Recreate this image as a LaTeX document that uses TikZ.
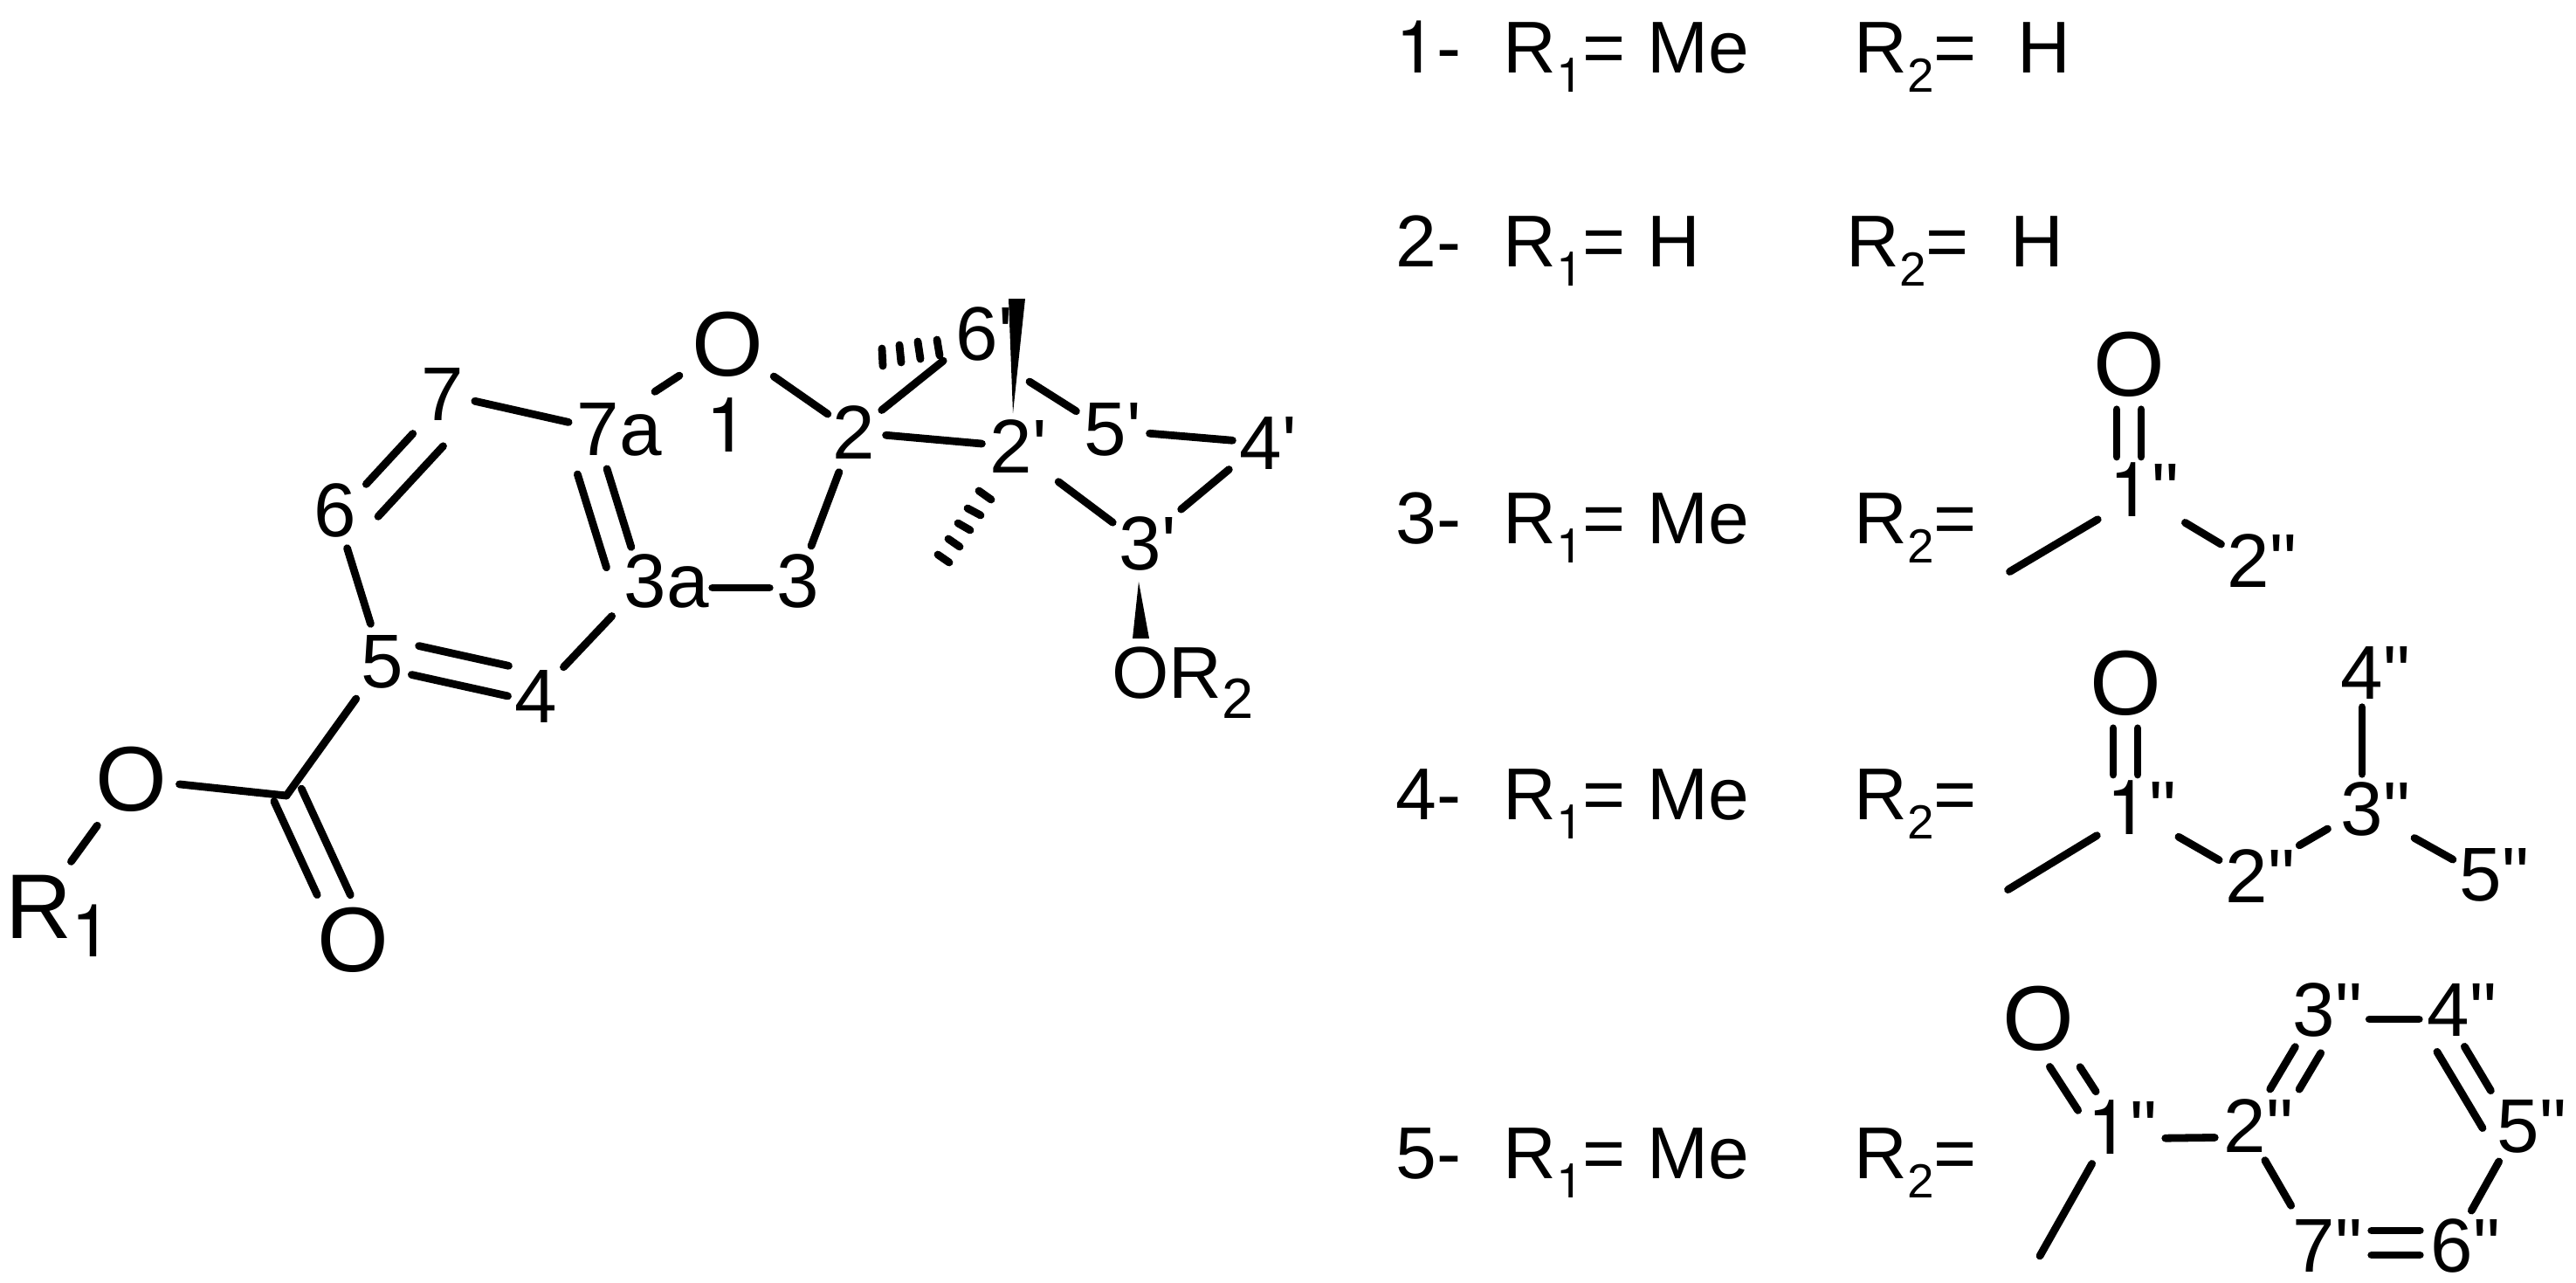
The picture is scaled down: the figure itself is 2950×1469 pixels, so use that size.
\documentclass[tikz,border=0pt]{standalone}
\usepackage{fontspec}
\newfontfamily\arial{Liberation Sans}
\newfontfamily\heros{TeX Gyre Heros}
\newcommand\one{{\heros 1}}
\newcommand\lab{\arial\fontsize{23.9}{24}\selectfont}
\newcommand\labnum{\arial\fontsize{24.8}{25}\selectfont}
\newcommand\labbig{\arial\fontsize{29.9}{30}\selectfont}
\newcommand\lowidx[2][15.6]{\raisebox{-.27em}{\fontsize{#1}{17}\selectfont #2}}
\newcommand\lowbig[1]{\raisebox{-.2em}{\fontsize{23.9}{24}\selectfont #1}}
\newcommand\tail[1]{\rlap{\smash{#1}}}
\tikzset{
  atom/.style={circle,inner sep=0pt,minimum size=9mm,font=\labnum},
  bigatom/.style={circle,inner sep=0pt,minimum size=11mm,font=\labbig},
  rowtxt/.style={anchor=base west,inner sep=0pt,font=\lab},
  bond/.style={line width=2.5pt,line cap=round},
  cut/.style 2 args={shorten <=#1mm,shorten >=#2mm},
  shiftby/.style={transform canvas={shift={(#1)}}}
}
\begin{document}
\begin{tikzpicture}[x=0.01cm,y=-0.01cm]
\useasboundingbox (0,0) rectangle (2950,1469);

\node[bigatom] (oe) at (150,892) {O};
\node[bigatom] (ob) at (404,1076) {O};
\node[bigatom] (rone) at (44,1038) {R\tail{\lowbig{\one}}};
\node[bigatom] (ao) at (833,394) {O};
\node[atom] (a1) at (833,487) {\one};
\node[atom] (a2) at (978,495) {2};
\node[atom] (a3) at (914,665) {3};
\node[atom] (a3a) at (739,665) {3\tail{a}};
\node[atom] (a4) at (614,797) {4};
\node[atom] (a5) at (438,758) {5};
\node[atom] (a6) at (384,584) {6};
\node[atom] (a7) at (507,451) {7};
\node[atom] (a7a) at (685,491) {7\tail{a}};
\node[atom] (a2p) at (1158,511) {2\tail{'}};
\node[atom] (a3p) at (1306,622) {3\tail{'}};
\node[atom] (a4p) at (1444,507) {4\tail{'}};
\node[atom] (a5p) at (1266,492) {5\tail{'}};
\node[atom] (a6p) at (1119,382) {6\tail{'}};
\node[atom,font=\lab] (otwo) at (1306,771) {O\tail{R\lowidx[18.5]{2}}};
\coordinate (cC) at (328,911);
\coordinate (vt) at (1179,437);
\coordinate (wp) at (1160,473);
\coordinate (wa) at (1155,342);
\coordinate (wb) at (1174,342);
\coordinate (wq) at (1304,666);
\coordinate (wc) at (1297,731);
\coordinate (wd) at (1316,731);

\draw[bond,cut={.6}{0}] (a5) -- (cC);
\draw[bond] (cC) -- (oe);
\draw[bond,cut={1}{.8}] (oe) -- (rone);
\draw[bond,shiftby={-14.1,6.5},cut={0}{.8}] (cC) -- (ob);
\draw[bond,shiftby={17.3,-7.9},cut={0}{-.8}] (cC) -- (ob);
\draw[bond] (a6) -- (a5);
\draw[bond,shiftby={5.8,-26.4},cut={-.9}{-.75}] (a5) -- (a4);
\draw[bond,shiftby={-1.5,6.8},cut={-1}{-1.4}] (a5) -- (a4);
\draw[bond,cut={0}{1}] (a4) -- (a3a);
\draw[bond,shiftby={-36.3,11.2},cut={-.3}{-1.8}] (a7a) -- (a3a);
\draw[bond,shiftby={-3.8,1.2},cut={.1}{-.4}] (a7a) -- (a3a);
\draw[bond,cut={-.8}{-1.1}] (a7) -- (a7a);
\draw[bond,shiftby={4.3,3.9},cut={0}{1.1}] (a6) -- (a7);
\draw[bond,shiftby={30.2,27.7},cut={-1.8}{-.2}] (a6) -- (a7);
\draw[bond,cut={3.2}{1}] (a7a) -- (ao);
\draw[bond,cut={.9}{-.9}] (ao) -- (a2);
\draw[bond,shiftby={0,8},cut={3.1}{-1.3}] (a3a) -- (a3);
\draw[bond,cut={.3}{-.3}] (a2) -- (a3);
\draw[bond,cut={-.5}{.4}] (a2) -- (a6p);
\draw[bond,cut={-.9}{-1.2}] (a2) -- (a2p);
\draw[bond,cut={0}{-.6}] (vt) -- (a5p);
\draw[bond,cut={.5}{-1.3}] (a5p) -- (a4p);
\draw[bond,cut={.2}{1.5}] (a4p) -- (a3p);
\draw[bond,cut={2.2}{-.6}] (a2p) -- (a3p);
\fill (wp) -- (wa) -- (wb) -- cycle;
\fill (wq) -- (wc) -- (wd) -- cycle;
\foreach \xa/\ya/\xb/\yb in {1010/399/1011/419,1030/395/1032/415,1051/391/1054/411,1073/389/1076/407}
  \draw[bond] (\xa,\ya) -- (\xb,\yb);
\foreach \xa/\ya/\xb/\yb in {1121/562/1135/572,1108/582/1123/590,1097/599/1111/607,1086/617/1099/626,1074/635/1087/644}
  \draw[bond] (\xa,\ya) -- (\xb,\yb);

\node[rowtxt] (tag1) at (1598,83) {\one-};
\node[rowtxt] (rfa1) at (1721,83) {R\lowidx{\one}=};
\node[rowtxt] (rva1) at (1886,83) {Me};
\node[rowtxt] (rfb1) at (2123,83) {R\lowidx{2}=};
\node[rowtxt] (rvb1) at (2310,83) {H};
\node[rowtxt] (tag2) at (1598,305) {2-};
\node[rowtxt] (rfa2) at (1721,305) {R\lowidx{\one}=};
\node[rowtxt] (rva2) at (1886,305) {H};
\node[rowtxt] (rfb2) at (2114,305) {R\lowidx{2}=};
\node[rowtxt] (rvb2) at (2302,305) {H};
\node[rowtxt] (tag3) at (1598,622) {3-};
\node[rowtxt] (rfa3) at (1721,622) {R\lowidx{\one}=};
\node[rowtxt] (rva3) at (1886,622) {Me};
\node[rowtxt] (rfb3) at (2123,622) {R\lowidx{2}=};
\node[rowtxt] (tag4) at (1598,938) {4-};
\node[rowtxt] (rfa4) at (1721,938) {R\lowidx{\one}=};
\node[rowtxt] (rva4) at (1886,938) {Me};
\node[rowtxt] (rfb4) at (2123,938) {R\lowidx{2}=};
\node[rowtxt] (tag5) at (1598,1349) {5-};
\node[rowtxt] (rfa5) at (1721,1349) {R\lowidx{\one}=};
\node[rowtxt] (rva5) at (1886,1349) {Me};
\node[rowtxt] (rfb5) at (2123,1349) {R\lowidx{2}=};

\node[bigatom] (ca0) at (2438,417) {O};
\node[atom] (ca1) at (2440,561) {\one\tail{"}};
\node[atom] (ca2) at (2575,642) {2\tail{"}};
\coordinate (cam) at (2301.5,654.5);
\draw[bond,shiftby={-14,0},cut={-.4}{3.8}] (ca0) -- (ca0 |- ca1);
\draw[bond,shiftby={14,0},cut={-.4}{3.8}] (ca0) -- (ca0 |- ca1);
\draw[bond,cut={0}{.5}] (cam) -- (ca1.223);
\draw[bond,cut={2.7}{-.9}] (ca1) -- (ca2);

\node[bigatom] (cb0) at (2434,782) {O};
\node[atom] (cb1) at (2437,925) {\one\tail{"}};
\node[atom] (cb2) at (2573,1003) {2\tail{"}};
\node[atom] (cb3) at (2705,926) {3\tail{"}};
\node[atom] (cb4) at (2705,770) {4\tail{"}};
\node[atom] (cb5) at (2841,1002) {5\tail{"}};
\coordinate (cbm) at (2299.5,1018.6);
\draw[bond,shiftby={-14,0},cut={-.4}{3.8}] (cb0) -- (cb0 |- cb1);
\draw[bond,shiftby={14,0},cut={-.4}{3.8}] (cb0) -- (cb0 |- cb1);
\draw[bond,cut={0}{.2}] (cbm) -- (cb1.222);
\draw[bond,cut={2.1}{-.9}] (cb1) -- (cb2);
\draw[bond,cut={2.4}{0}] (cb2) -- (cb3);
\draw[bond,cut={-.6}{-.6}] (cb3) -- (cb4);
\draw[bond,cut={2.3}{-.9}] (cb3) -- (cb5);

\node[bigatom] (cc0) at (2334,1166) {O};
\node[atom] (cc1) at (2415,1291) {\one\tail{"}};
\node[atom] (cc2) at (2571,1289) {2\tail{"}};
\node[atom] (cc3) at (2650,1156) {3\tail{"}};
\node[atom] (cc4) at (2804,1156) {4\tail{"}};
\node[atom] (cc5) at (2884,1290) {5\tail{"}};
\node[atom] (cc6) at (2808,1426) {6\tail{"}};
\node[atom] (cc7) at (2650,1426) {7\tail{"}};
\coordinate (ccm) at (2336,1438);
\draw[bond,shiftby={-15.9,10.3},cut={-.2}{-1}] (cc0) -- (cc1);
\draw[bond,shiftby={8.4,-5.4},cut={1.7}{-.3}] (cc0) -- (cc1);
\draw[bond] (ccm) -- (cc1.245);
\draw[bond,shiftby={0,13},cut={1.9}{-1.1}] (cc1) -- (cc2);
\draw[bond,shiftby={2.8,1.6},cut={.5}{.2}] (cc2) -- (cc3);
\draw[bond,shiftby={27.5,16.4},cut={2.2}{-.7}] (cc2) -- (cc3);
\draw[bond,shiftby={0,11},cut={1.75}{-1.2}] (cc3) -- (cc4);
\draw[bond,shiftby={-30.9,18.5},cut={-1.1}{-2.6}] (cc4) -- (cc5);
\draw[bond,shiftby={-5.1,3.1},cut={0}{.6}] (cc4) -- (cc5);
\draw[bond] (cc5) -- (cc6);
\draw[bond,shiftby={0,-17},cut={2}{-.9}] (cc7) -- (cc6);
\draw[bond,shiftby={0,11},cut={2}{-.9}] (cc7) -- (cc6);
\draw[bond,cut={0}{.7}] (cc2) -- (cc7);
\end{tikzpicture}
\end{document}
